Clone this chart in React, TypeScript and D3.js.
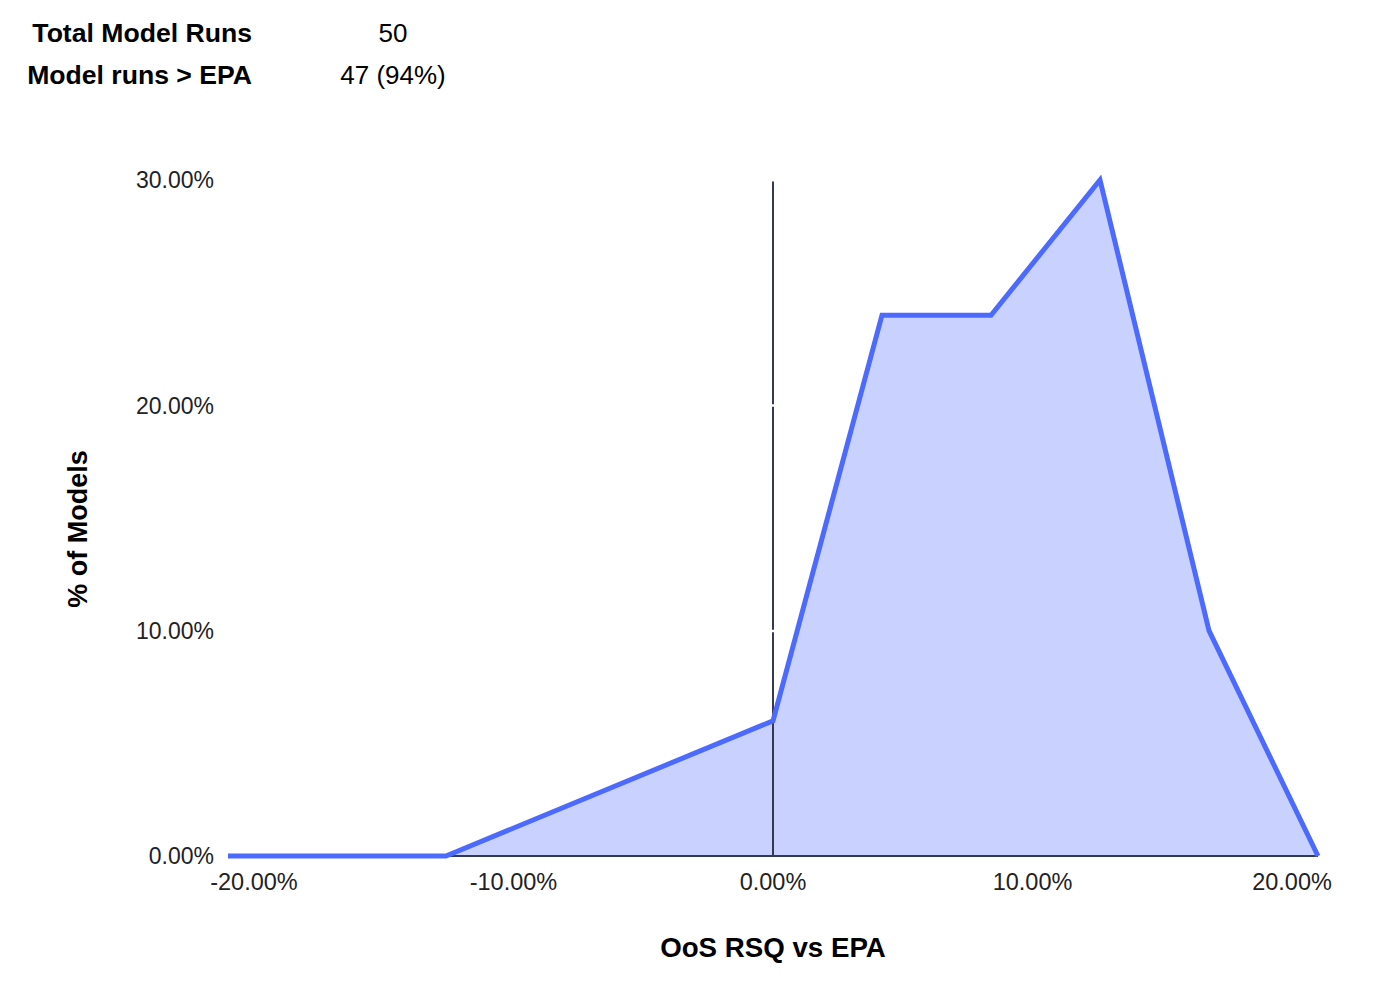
import React from "react";
import * as d3 from "d3";

const xValues: number[] = [-21, -12.6, 0, 4.2, 8.4, 12.6, 16.8, 21];
const yValues: number[] = [0, 0, 6, 24, 24, 30, 10, 0];
const xTicks: number[] = [-20, -10, 0, 10, 20];
const yTicks: number[] = [0, 10, 20, 30];
const summaryLabels: string[] = ["Total Model Runs", "Model runs > EPA"];
const summaryValues: string[] = ["50", "47 (94%)"];

const W = 1382;
const H = 984;
const left = 228;
const right = 1318;
const top = 180;
const bottom = 856;
const FONT = "'Liberation Sans', Arial, Helvetica, sans-serif";
const BLUE = "#4d6aff";

export default function App() {
  const x = d3.scaleLinear().domain([-21, 21]).range([left, right]);
  const y = d3.scaleLinear().domain([0, 30]).range([bottom, top]);
  const pts: [number, number][] = xValues.map((v, i) => [v, yValues[i]]);
  const area = d3
    .area<[number, number]>()
    .x((d) => x(d[0]))
    .y0(y(0))
    .y1((d) => y(d[1]));
  const line = d3
    .line<[number, number]>()
    .x((d) => x(d[0]))
    .y((d) => y(d[1]));
  const fmt = (v: number) => v.toFixed(2) + "%";
  const x0 = x(0);
  const gridYs = yTicks.filter((t) => t > 0).map((t) => y(t)).sort((a, b) => a - b);
  const segs: [number, number][] = [];
  let start = y(30);
  gridYs.forEach((g) => {
    if (g > start + 1) {
      segs.push([start, g - 1]);
    }
    start = g + 1.5;
  });
  segs.push([start, y(0)]);

  return (
    <svg
      width={W}
      height={H}
      style={{ position: "absolute", left: 0, top: 0, background: "#fff" }}
      fontFamily={FONT}
    >
      <rect x={0} y={0} width={W} height={H} fill="#fff" />
      {summaryLabels.map((s, i) => (
        <g key={s}>
          <text x={252} y={42 + i * 41.5} textAnchor="end" fontWeight="bold" fontSize={26.6} fill="#000">
            {s}
          </text>
          <text x={393} y={42 + i * 41.5} textAnchor="middle" fontSize={26} fill="#000">
            {summaryValues[i]}
          </text>
        </g>
      ))}
      <path d={area(pts) || ""} fill={BLUE} fillOpacity={0.3} />
      <line x1={left} x2={right} y1={y(0)} y2={y(0)} stroke="#333a55" strokeWidth={2} />
      {segs.map((s, i) => (
        <line key={i} x1={x0} x2={x0} y1={s[0]} y2={s[1]} stroke="#333a55" strokeWidth={2} />
      ))}
      <path d={line(pts) || ""} fill="none" stroke={BLUE} strokeWidth={5} strokeLinejoin="miter" />
      {yTicks.map((t) => (
        <text key={t} x={214} y={y(t)} dy="0.36em" textAnchor="end" fontSize={23} fill="#222">
          {fmt(t)}
        </text>
      ))}
      {xTicks.map((t) => (
        <text key={t} x={x(t)} y={890} textAnchor="middle" fontSize={23.5} fill="#222">
          {fmt(t)}
        </text>
      ))}
      <text x={773} y={957} textAnchor="middle" fontWeight="bold" fontSize={27.7} fill="#000">
        OoS RSQ vs EPA
      </text>
      <text
        transform={`translate(87,529) rotate(-90)`}
        textAnchor="middle"
        fontWeight="bold"
        fontSize={27}
        fill="#000"
      >
        % of Models
      </text>
    </svg>
  );
}
